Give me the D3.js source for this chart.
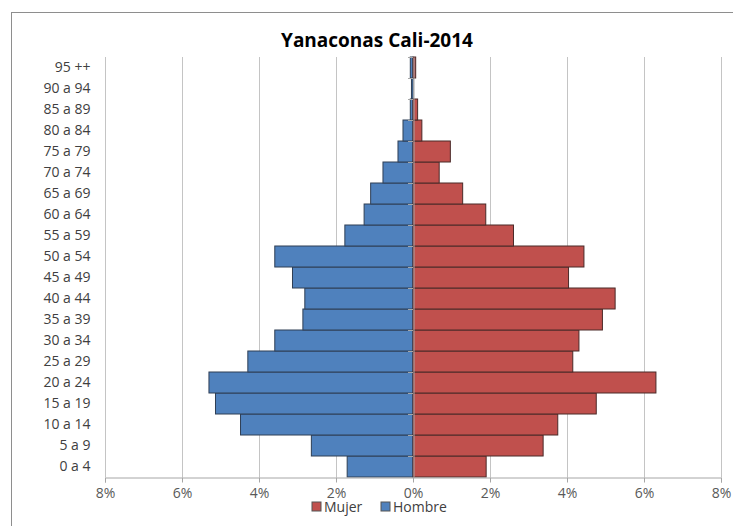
<!DOCTYPE html>
<html>
<head>
<meta charset="utf-8">
<script src="https://cdn.jsdelivr.net/npm/d3@7"></script>
<style>
  body { margin: 0; background: #fff; }
  text { font-family: "Open Sans", sans-serif; }
</style>
</head>
<body>
<div id="chart"></div>
<script>
// age groups, bottom to top
var groups = ['0 a 4', '5 a 9', '10 a 14', '15 a 19', '20 a 24', '25 a 29', '30 a 34',
  '35 a 39', '40 a 44', '45 a 49', '50 a 54', '55 a 59', '60 a 64', '65 a 69',
  '70 a 74', '75 a 79', '80 a 84', '85 a 89', '90 a 94', '95 ++'];
// percent of population
var hombre = [1.71, 2.64, 4.48, 5.13, 5.30, 4.29, 3.59, 2.86, 2.81, 3.13, 3.59,
  1.77, 1.27, 1.10, 0.78, 0.39, 0.26, 0.07, 0.04, 0.07];
var mujer = [1.90, 3.38, 3.76, 4.76, 6.31, 4.15, 4.31, 4.92, 5.25, 4.04, 4.44,
  2.61, 1.89, 1.29, 0.68, 0.97, 0.23, 0.12, 0, 0.07];
var xTicks = [-8, -6, -4, -2, 0, 2, 4, 6, 8];

var W = 733, H = 526;
var svg = d3.select('#chart').append('svg')
    .attr('width', W)
    .attr('height', H);

// chart frame
svg.append('rect')
    .attr('x', 11.5).attr('y', 12.5)
    .attr('width', 740).attr('height', 540)
    .attr('fill', 'none')
    .attr('stroke', '#8e8e8e');

svg.append('text')
    .attr('x', 377).attr('y', 47)
    .attr('text-anchor', 'middle')
    .attr('font-size', 19)
    .attr('font-weight', 'bold')
    .attr('fill', '#000')
    .text('Yanaconas Cali-2014');

var x = d3.scaleLinear().domain([-8, 8]).range([105, 721]);
var y = d3.scaleBand().domain(groups.slice().reverse()).range([57, 477]).padding(0);

// vertical gridlines
svg.append('g')
  .selectAll('line')
  .data(xTicks.filter(function (d) { return d !== 0; }))
  .enter().append('line')
    .attr('x1', function (d) { return Math.round(x(d)) + 0.5; })
    .attr('x2', function (d) { return Math.round(x(d)) + 0.5; })
    .attr('y1', 57).attr('y2', 477)
    .attr('stroke', '#c4c4c4');

var rows = groups.map(function (g, i) { return {g: g, h: hombre[i], m: mujer[i]}; });

svg.append('g').selectAll('rect')
  .data(rows)
  .enter().append('rect')
    .attr('x', function (d) { return x(-d.h); })
    .attr('y', function (d) { return y(d.g); })
    .attr('width', function (d) { return x(0) - x(-d.h); })
    .attr('height', y.bandwidth())
    .attr('fill', '#4f81bd')
    .attr('stroke', '#2f3f55')
    .attr('stroke-width', 1);

svg.append('g').selectAll('rect')
  .data(rows.filter(function (d) { return d.m > 0; }))
  .enter().append('rect')
    .attr('x', x(0))
    .attr('y', function (d) { return y(d.g); })
    .attr('width', function (d) { return x(d.m) - x(0); })
    .attr('height', y.bandwidth())
    .attr('fill', '#c0504d')
    .attr('stroke', '#4a2a29')
    .attr('stroke-width', 1);

// x axis
var xAxis = d3.axisBottom(x)
    .tickValues(xTicks)
    .tickSize(5)
    .tickPadding(6)
    .tickFormat(function (d) { return Math.abs(d) + '%'; });
var gx = svg.append('g')
    .attr('transform', 'translate(0,477.5)')
    .call(xAxis);
gx.select('.domain').attr('stroke', '#a6a6a6');
gx.selectAll('.tick line').attr('stroke', '#a6a6a6');
gx.selectAll('.tick text')
    .attr('font-size', 14)
    .attr('fill', '#595959')
    .style('font-family', '"Open Sans", sans-serif');

// y axis at 0
var yAxis = d3.axisLeft(y).tickSize(0).tickPadding(0);
var gy = svg.append('g')
    .attr('transform', 'translate(' + (Math.round(x(0)) + 0.5) + ',0)')
    .call(yAxis);
gy.select('.domain').attr('stroke', '#a6a6a6');
gy.selectAll('.tick text')
    .attr('x', 90 - Math.round(x(0)))
    .attr('font-size', 14)
    .attr('fill', '#404040')
    .style('font-family', '"Open Sans", sans-serif');

// small tick marks at band edges
svg.append('g').selectAll('line')
  .data(groups)
  .enter().append('line')
    .attr('x1', x(0) - 5).attr('x2', x(0))
    .attr('y1', function (d) { return Math.round(y(d)) + 0.5; })
    .attr('y2', function (d) { return Math.round(y(d)) + 0.5; })
    .attr('stroke', '#a6a6a6');

// legend
var legend = [{name: 'Mujer', color: '#c0504d', x: 312}, {name: 'Hombre', color: '#4f81bd', x: 381}];
var lg = svg.append('g').selectAll('g')
  .data(legend)
  .enter().append('g')
    .attr('transform', function (d) { return 'translate(' + d.x + ',502)'; });
lg.append('rect')
    .attr('width', 9).attr('height', 9)
    .attr('fill', function (d) { return d.color; })
    .attr('stroke', '#555');
lg.append('text')
    .attr('x', 12).attr('y', 10)
    .attr('font-size', 14)
    .attr('fill', '#404040')
    .text(function (d) { return d.name; });
</script>
</body>
</html>
